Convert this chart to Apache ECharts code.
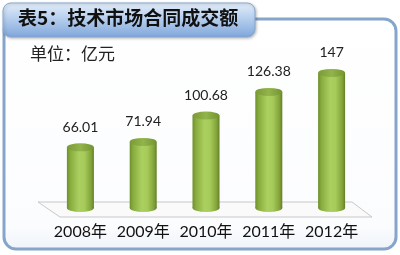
<!DOCTYPE html>
<html><head><meta charset="utf-8">
<script src="https://cdn.jsdelivr.net/npm/echarts@6/dist/echarts.min.js"></script>
<style>html,body{margin:0;padding:0;background:#fff}#c{width:400px;height:255px}</style>
</head><body><div id="c"></div>
<script>
const categories = ['2008年','2009年','2010年','2011年','2012年'];
const values = [66.01, 71.94, 100.68, 126.38, 147];
const valueLabels = ['66.01','71.94','100.68','126.38','147'];

const chart = echarts.init(document.getElementById('c'));
const sideGrad = new echarts.graphic.LinearGradient(0,0,1,0,[
  {offset:0,color:'#6e8f2c'},{offset:0.12,color:'#88ab3e'},{offset:0.45,color:'#abd060'},
  {offset:0.65,color:'#a6cb5a'},{offset:0.9,color:'#82a239'},{offset:1,color:'#617f25'}]);
const topGrad = new echarts.graphic.LinearGradient(0,0,1,0,[
  {offset:0,color:'#7a9a35'},{offset:0.5,color:'#92b44b'},{offset:1,color:'#739331'}]);
const font = 'Lato, "Noto Sans CJK SC", sans-serif';
chart.setOption({
  animation:false,
  graphic:[
    {type:'rect',z:-10,shape:{x:4,y:19,width:392,height:230,r:12},
     style:{fill:new echarts.graphic.LinearGradient(0,0,0,1,[{offset:0,color:'#ffffff'},{offset:0.9,color:'#fbfcfe'},{offset:1,color:'#eef2f8'}]),stroke:'#86a5cb',lineWidth:3}},
    {type:'rect',z:-5,shape:{x:3,y:3,width:252,height:34,r:8},
     style:{fill:new echarts.graphic.LinearGradient(0,0,0,1,[{offset:0,color:'#e4eefa'},{offset:0.45,color:'#b7cfee'},{offset:1,color:'#7fa6db'}]),stroke:'#89a9d2',lineWidth:1,
     shadowBlur:3,shadowColor:'rgba(0,0,0,0.25)',shadowOffsetX:1,shadowOffsetY:1}},
    {type:'text',z:5,left:18,top:8,style:{text:'表5：技术市场合同成交额',fill:'#111',font:'bold 19px "Noto Sans CJK SC", sans-serif'}},
    {type:'text',z:5,left:30,top:45,style:{text:'单位：亿元',fill:'#222',font:'17px "Noto Sans CJK SC", sans-serif'}},
    {type:'polygon',z:-1,shape:{points:[[38,202],[352,202],[372,217],[60,217]]},
     style:{fill:'#fafafa',stroke:'#c8c8c8',lineWidth:1}}
  ],
  grid:{left:49,right:37,top:61,bottom:47},
  xAxis:{type:'category',data:categories,axisLine:{show:false},axisTick:{show:false},
    axisLabel:{interval:0,margin:16,fontSize:16,color:'#111',fontFamily:font}},
  yAxis:{type:'value',min:0,max:160,show:false,splitLine:{show:false}},
  series:[
    {type:'bar',data:values,barWidth:27,itemStyle:{color:sideGrad},z:2},
    {type:'pictorialBar',data:values,symbol:'circle',symbolSize:[27,8],symbolPosition:'start',symbolOffset:[0,'50%'],
     itemStyle:{color:sideGrad},z:1},
    {type:'pictorialBar',data:values,symbol:'circle',symbolSize:[27,8],symbolPosition:'end',symbolOffset:[0,'-50%'],
     itemStyle:{color:topGrad},z:3,
     label:{show:true,position:'top',distance:9,fontSize:14,color:'#222',fontFamily:font,
       formatter:p=>valueLabels[p.dataIndex]}}
  ]
});
</script></body></html>
